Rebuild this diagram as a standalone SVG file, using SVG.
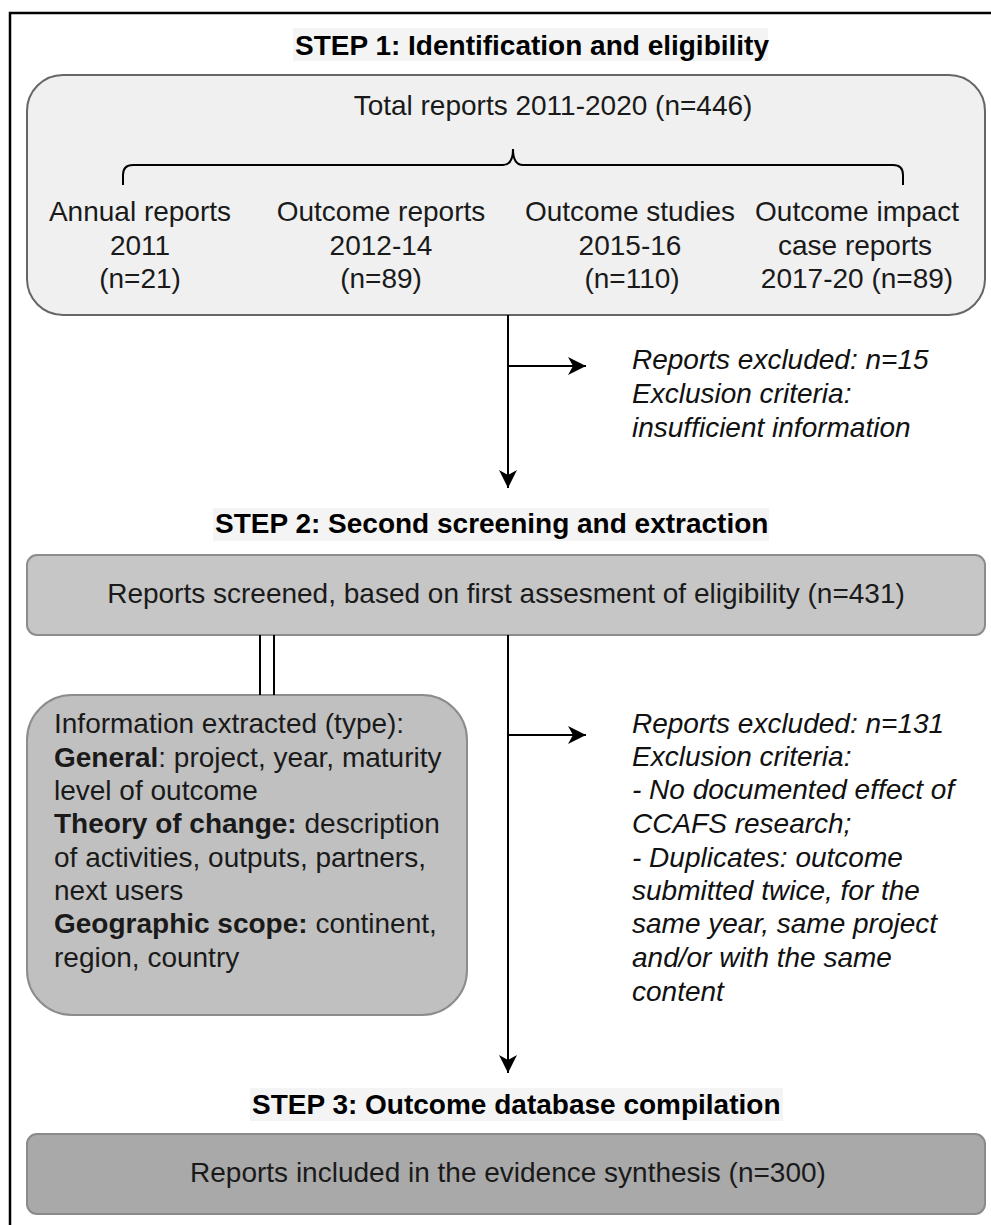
<svg xmlns="http://www.w3.org/2000/svg" width="991" height="1225" viewBox="0 0 991 1225">
  <defs>
    <style>
      text { font-family: "Liberation Sans", Arial, sans-serif; font-size: 28px; fill: #1a1a1a; }
      .title { font-weight: bold; fill: #000; }
      .it { font-style: italic; fill: #111; }
      .b { font-weight: bold; }
      .mid { text-anchor: middle; }
      .tbg { fill: #f4f4f4; }
      .conn { stroke: #000; stroke-width: 2; fill: none; }
    </style>
    <marker id="arr" markerUnits="userSpaceOnUse" markerWidth="18" markerHeight="18" viewBox="0 0 18 18" refX="18" refY="9" orient="auto">
      <path d="M0,0 L18,9 L0,18 L5,9 Z" fill="#000"/>
    </marker>
  </defs>
  <rect width="991" height="1225" fill="#fff"/>
  <rect x="10" y="13" width="995" height="1230" fill="none" stroke="#000" stroke-width="2.5"/>

  <g id="title1">
    <rect class="tbg" x="293" y="28" width="475" height="33"/>
    <text class="title" x="295" y="55">STEP 1: Identification and eligibility</text>
  </g>

  <g id="step1-box">
    <rect x="27" y="75" width="958" height="240" rx="36" ry="36" fill="#f0f0f0" stroke="#666" stroke-width="2"/>
    <text class="mid" x="553" y="115">Total reports 2011-2020 (n=446)</text>
    <path d="M123,185 V175 Q123,165 133,165 H503 Q513,165 513,149 Q513,165 523,165 H893 Q903,165 903,175 V185" fill="none" stroke="#000" stroke-width="2"/>
    <text class="mid" x="140" y="221">Annual reports</text>
    <text class="mid" x="140" y="255">2011</text>
    <text class="mid" x="140" y="288">(n=21)</text>
    <text class="mid" x="381" y="221">Outcome reports</text>
    <text class="mid" x="381" y="255">2012-14</text>
    <text class="mid" x="381" y="288">(n=89)</text>
    <text class="mid" x="630" y="221">Outcome studies</text>
    <text class="mid" x="630" y="255">2015-16</text>
    <text class="mid" x="632" y="288">(n=110)</text>
    <text class="mid" x="857" y="221">Outcome impact</text>
    <text class="mid" x="855" y="255">case reports</text>
    <text class="mid" x="857" y="288">2017-20 (n=89)</text>
  </g>

  <g id="excluded1">
    <text class="it" x="632" y="369">Reports excluded: n=15</text>
    <text class="it" x="632" y="403">Exclusion criteria:</text>
    <text class="it" x="632" y="437">insufficient information</text>
  </g>

  <g id="title2">
    <rect class="tbg" x="213" y="508" width="556" height="33"/>
    <text class="title" x="215" y="533">STEP 2: Second screening and extraction</text>
  </g>

  <g id="step2-box">
    <rect x="27" y="555" width="958" height="80" rx="10" ry="10" fill="#c6c6c6" stroke="#8c8c8c" stroke-width="2"/>
    <text class="mid" x="506" y="603">Reports screened, based on first assesment of eligibility (n=431)</text>
  </g>

  <g id="info-box">
    <rect x="27" y="695" width="440" height="320" rx="45" ry="45" fill="#c0c0c0" stroke="#8c8c8c" stroke-width="2"/>
    <text x="54" y="733">Information extracted (type):</text>
    <text x="54" y="767"><tspan class="b">General</tspan>: project, year, maturity</text>
    <text x="54" y="800">level of outcome</text>
    <text x="54" y="833"><tspan class="b">Theory of change:</tspan> description</text>
    <text x="54" y="867">of activities, outputs, partners,</text>
    <text x="54" y="900">next users</text>
    <text x="54" y="933"><tspan class="b">Geographic scope:</tspan> continent,</text>
    <text x="54" y="967">region, country</text>
  </g>

  <g id="excluded2">
    <text class="it" x="632" y="733">Reports excluded: n=131</text>
    <text class="it" x="632" y="766">Exclusion criteria:</text>
    <text class="it" x="632" y="799">- No documented effect of</text>
    <text class="it" x="632" y="833">CCAFS research;</text>
    <text class="it" x="632" y="867">- Duplicates: outcome</text>
    <text class="it" x="632" y="900">submitted twice, for the</text>
    <text class="it" x="632" y="933">same year, same project</text>
    <text class="it" x="632" y="967">and/or with the same</text>
    <text class="it" x="632" y="1001">content</text>
  </g>

  <g id="title3">
    <rect class="tbg" x="250" y="1088" width="533" height="33"/>
    <text class="title" x="252" y="1114">STEP 3: Outcome database compilation</text>
  </g>

  <g id="step3-box">
    <rect x="27" y="1134" width="958" height="80" rx="10" ry="10" fill="#a9a9a9" stroke="#8a8a8a" stroke-width="2"/>
    <text class="mid" x="508" y="1182">Reports included in the evidence synthesis (n=300)</text>
  </g>

  <g id="connectors">
    <line class="conn" x1="508" y1="315" x2="508" y2="488" marker-end="url(#arr)"/>
    <line class="conn" x1="508" y1="366" x2="586" y2="366" marker-end="url(#arr)"/>
    <line class="conn" x1="508" y1="635" x2="508" y2="1073" marker-end="url(#arr)"/>
    <line class="conn" x1="508" y1="735" x2="586" y2="735" marker-end="url(#arr)"/>
    <line class="conn" x1="260" y1="635" x2="260" y2="695"/>
    <line class="conn" x1="274" y1="635" x2="274" y2="695"/>
  </g>
</svg>
